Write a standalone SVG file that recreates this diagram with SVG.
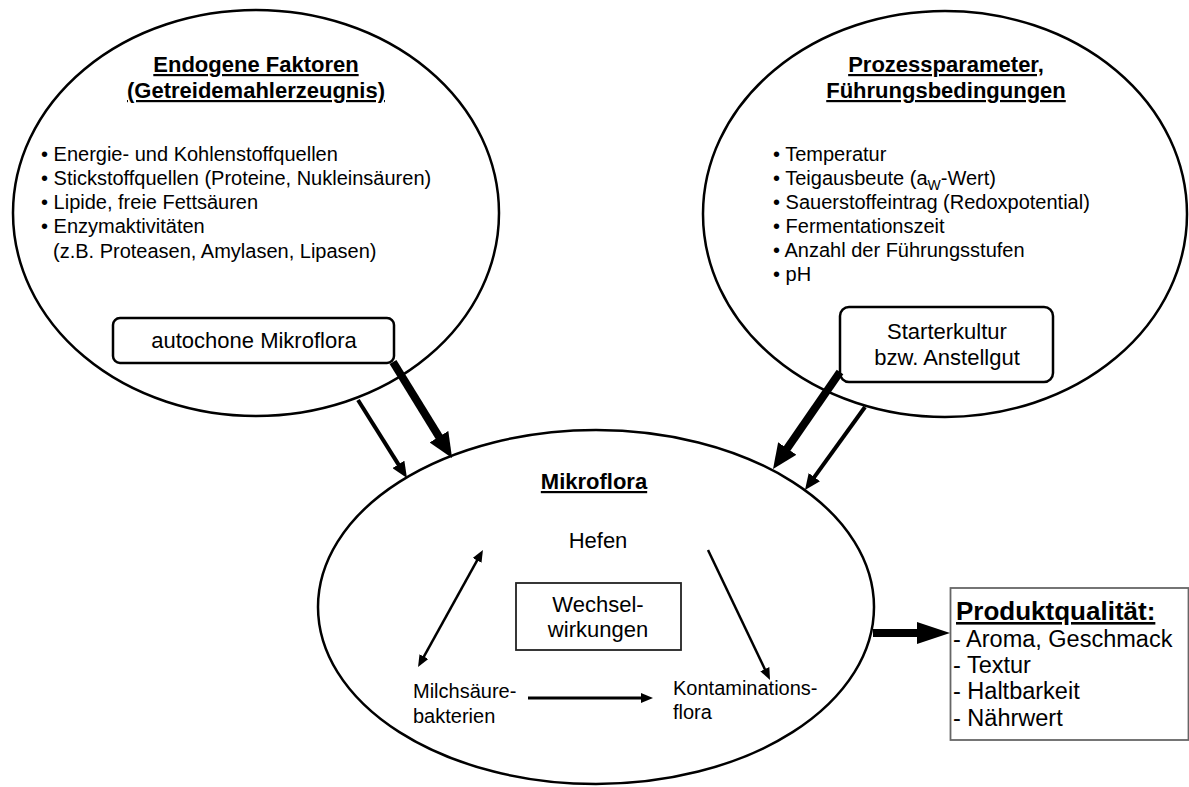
<svg xmlns="http://www.w3.org/2000/svg" width="1189" height="787" viewBox="0 0 1189 787">
<style>
text{font-family:"Liberation Sans",Arial,sans-serif;fill:#000}
.t{font-size:22px;font-weight:bold;text-decoration:underline;text-anchor:middle}
.b{font-size:20px}
.m{font-size:22px;text-anchor:middle}
.q{font-size:23.5px}
.ell{fill:#fff;stroke:#000;stroke-width:2.5}
.box{fill:#fff;stroke:#000;stroke-width:2.5}
.ln{stroke:#000;fill:none}
</style>
<defs>
<marker id="hBig" markerUnits="userSpaceOnUse" markerWidth="25" markerHeight="22" refX="2" refY="11" orient="auto"><path d="M0,0 L25,11 L0,22 z"/></marker>
<marker id="hMed" markerUnits="userSpaceOnUse" markerWidth="16" markerHeight="14" refX="2" refY="7" orient="auto"><path d="M0,0 L16,7 L0,14 z"/></marker>
<marker id="hSm" markerUnits="userSpaceOnUse" markerWidth="12" markerHeight="10" refX="2" refY="5" orient="auto-start-reverse"><path d="M0,0 L12,5 L0,10 z"/></marker>
<marker id="hOut" markerUnits="userSpaceOnUse" markerWidth="33" markerHeight="22" refX="2" refY="11" orient="auto"><path d="M0,0 L33,11 L0,22 z"/></marker>
</defs>
<rect width="1189" height="787" fill="#fff"/>

<g id="endogen">
<ellipse class="ell" cx="256" cy="213" rx="243" ry="203"/>
<text class="t" x="256" y="72">Endogene Faktoren</text>
<text class="t" x="256" y="98">(Getreidemahlerzeugnis)</text>
<text class="b" x="41" y="161">• Energie- und Kohlenstoffquellen</text>
<text class="b" x="41" y="185">• Stickstoffquellen (Proteine, Nukleinsäuren)</text>
<text class="b" x="41" y="209">• Lipide, freie Fettsäuren</text>
<text class="b" x="41" y="233">• Enzymaktivitäten</text>
<text class="b" x="53" y="258">(z.B. Proteasen, Amylasen, Lipasen)</text>
</g>

<g id="prozess">
<ellipse class="ell" cx="945" cy="214" rx="242" ry="203"/>
<text class="t" x="946" y="72">Prozessparameter,</text>
<text class="t" x="946" y="98">Führungsbedingungen</text>
<text class="b" x="773" y="161">• Temperatur</text>
<text class="b" x="773" y="185">• Teigausbeute (a<tspan font-size="14" dy="5">W</tspan><tspan dy="-5">-Wert)</tspan></text>
<text class="b" x="773" y="209">• Sauerstoffeintrag (Redoxpotential)</text>
<text class="b" x="773" y="233">• Fermentationszeit</text>
<text class="b" x="773" y="257">• Anzahl der Führungsstufen</text>
<text class="b" x="773" y="281">• pH</text>
</g>

<g id="autochone">
<rect class="box" x="113" y="318" width="281" height="45" rx="7"/>
<text class="m" x="254" y="348">autochone Mikroflora</text>
</g>

<g id="starter">
<rect class="box" x="840" y="307" width="213" height="75" rx="9"/>
<text class="m" x="947" y="339">Starterkultur</text>
<text class="m" x="947" y="365">bzw. Anstellgut</text>
</g>

<g id="mikroflora">
<ellipse class="ell" cx="596" cy="607" rx="278" ry="177"/>
<text class="t" x="594" y="489">Mikroflora</text>
<text class="m" x="598" y="548">Hefen</text>
<text class="b" x="413" y="698">Milchsäure-</text>
<text class="b" x="413" y="723">bakterien</text>
<text class="b" x="673" y="695">Kontaminations-</text>
<text class="b" x="673" y="719">flora</text>
</g>

<g id="wechsel">
<rect x="516" y="583" width="165" height="67" fill="#fff" stroke="#222" stroke-width="1.8"/>
<text class="m" x="598" y="612">Wechsel-</text>
<text class="m" x="598" y="637">wirkungen</text>
</g>

<g id="produkt">
<rect x="950.5" y="588" width="238" height="152" fill="#fff" stroke="#666" stroke-width="1.8"/>
<text x="956" y="620" font-size="26" font-weight="bold" text-decoration="underline">Produktqualität:</text>
<text class="q" x="953" y="647">- Aroma, Geschmack</text>
<text class="q" x="953" y="673">- Textur</text>
<text class="q" x="953" y="699">- Haltbarkeit</text>
<text class="q" x="953" y="726">- Nährwert</text>
</g>

<g id="connectors">
<line class="ln" x1="393" y1="362" x2="440" y2="438.4" stroke-width="8" marker-end="url(#hBig)"/>
<line class="ln" x1="358" y1="400" x2="399.5" y2="466.1" stroke-width="4" marker-end="url(#hMed)"/>
<line class="ln" x1="840" y1="372" x2="786.1" y2="450.1" stroke-width="8" marker-end="url(#hBig)"/>
<line class="ln" x1="865" y1="407" x2="813.2" y2="478.7" stroke-width="4" marker-end="url(#hMed)"/>
<line class="ln" x1="422.9" y1="658.3" x2="478.1" y2="558.7" stroke-width="2.5" marker-start="url(#hSm)" marker-end="url(#hSm)"/>
<line class="ln" x1="708" y1="550" x2="765.7" y2="671" stroke-width="2.5" marker-end="url(#hSm)"/>
<line class="ln" x1="528" y1="698" x2="643" y2="698" stroke-width="3" marker-end="url(#hSm)"/>
<line class="ln" x1="873" y1="633" x2="919" y2="633" stroke-width="8" marker-end="url(#hOut)"/>
</g>
</svg>
